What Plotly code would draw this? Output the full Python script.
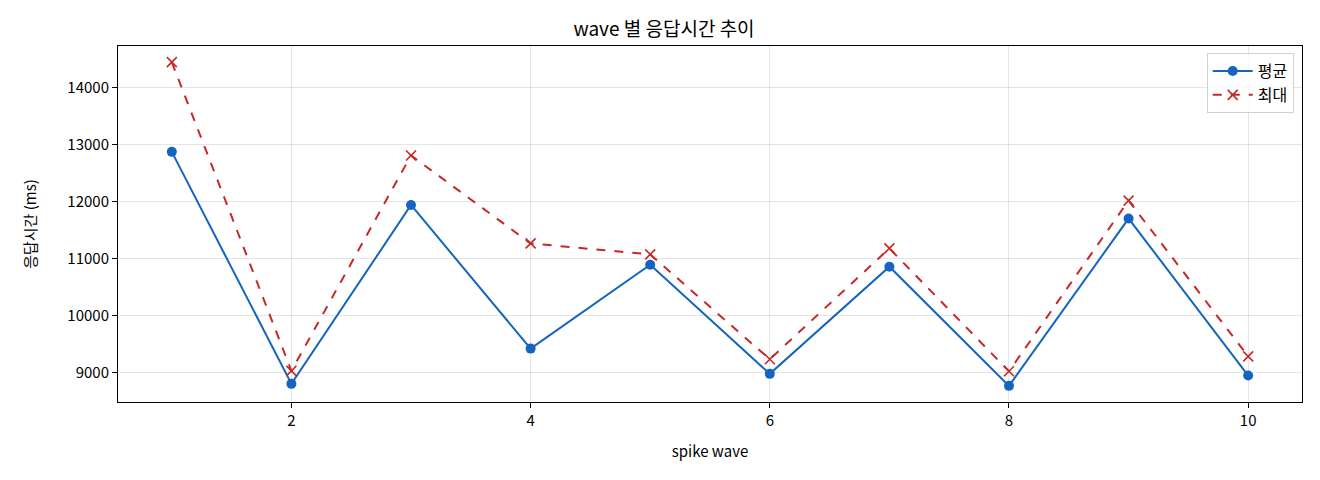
import plotly.graph_objects as go

# wave 별 응답시간 (ms)
waves = [1, 2, 3, 4, 5, 6, 7, 8, 9, 10]
avg_ms = [12871, 8808, 11941, 9425, 10895, 8983, 10860, 8773, 11703, 8953]
max_ms = [14442, 9035, 12808, 11267, 11075, 9238, 11180, 9028, 12017, 9290]

FONT = "Noto Sans CJK KR"

fig = go.Figure()

fig.add_trace(
    go.Scatter(
        x=waves,
        y=avg_ms,
        mode="lines+markers",
        name="평균",
        line=dict(color="#1565C0", width=2),
        marker=dict(symbol="circle", size=10, color="#1565C0"),
    )
)

fig.add_trace(
    go.Scatter(
        x=waves,
        y=max_ms,
        mode="lines+markers",
        name="최대",
        line=dict(color="#C62828", width=2, dash="dash"),
        marker=dict(symbol="x-thin", size=10, line=dict(color="#C62828", width=1.6)),
    )
)

axis_common = dict(
    showline=True,
    linecolor="black",
    linewidth=1,
    mirror=True,
    ticks="outside",
    ticklen=5,
    tickcolor="black",
    gridcolor="rgba(0,0,0,0.1)",
    zeroline=False,
    tickfont=dict(size=15, color="black"),
)

# page body adds an 8px offset, so the figure is 8px smaller and margins shifted
fig.update_layout(
    width=1312,
    height=472,
    paper_bgcolor="white",
    plot_bgcolor="white",
    font=dict(family=FONT, color="black", size=15),
    margin=dict(l=110, r=18, t=38, b=78),
    title=dict(
        text="wave 별 응답시간 추이",
        x=0.5,
        xanchor="center",
        y=1 - 21 / 472,
        yanchor="middle",
        font=dict(size=19),
    ),
    xaxis=dict(
        title=dict(text="spike wave", font=dict(size=15), standoff=17),
        range=[0.55, 10.45],
        tickmode="array",
        tickvals=[2, 4, 6, 8, 10],
        **axis_common,
    ),
    yaxis=dict(
        title=dict(text="응답시간 (ms)", font=dict(size=15), standoff=27),
        range=[8490, 14725],
        tickmode="array",
        tickvals=[9000, 10000, 11000, 12000, 13000, 14000],
        tickformat="d",
        **axis_common,
    ),
    legend=dict(
        x=0.993,
        y=0.98,
        xanchor="right",
        yanchor="top",
        bgcolor="rgba(255,255,255,0.8)",
        bordercolor="#d0d0d0",
        borderwidth=1,
        font=dict(size=16),
        itemwidth=40,
    ),
    showlegend=True,
)

fig.write_html("out.html")
